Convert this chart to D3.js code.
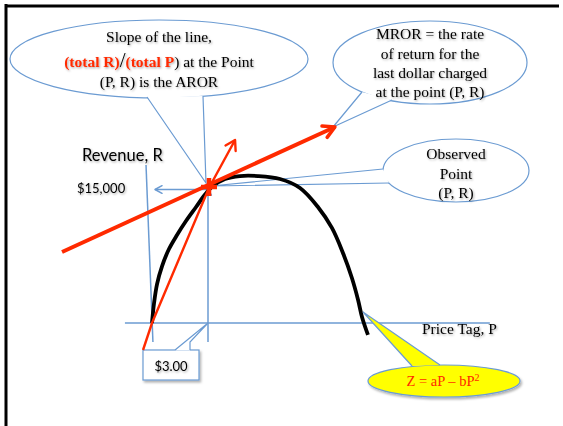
<!DOCTYPE html>
<html><head><meta charset="utf-8">
<script src="https://cdn.jsdelivr.net/npm/d3@7"></script>
<style>html,body{margin:0;padding:0;background:#fff;}svg{display:block;}</style>
</head><body>
<script>
// ---- data (P = price tag in $, R = revenue in $) ----
const curveP = [0, 0.11, 0.27, 0.54, 0.91, 1.34, 1.82, 2.36, 2.84, 3.27, 3.91, 4.71, 5.68, 6.86, 7.93, 8.89, 9.64, 10.23, 10.71, 11.04, 11.25, 11.57];
const curveR = [0, 2220, 4330, 6330, 8220, 9780, 11330, 12890, 14280, 15220, 16000, 16330, 16330, 16000, 15000, 12890, 10560, 7780, 5000, 2560, 670, -1330];
const pointP = 3.0;
const pointR = 15000;
const tangentP = [-4.82, 9.8];            // MROR line (tangent) ends
const tangentR = [7890, 21780];
const arorP = [-0.48, 0.0, 3.05, 4.45];   // AROR line through origin and point
const arorR = [-3000, 0, 15000, 20330];
const axisP = [-1.45, 18.1];              // price axis extent
const axisR = [17560, -2110];             // revenue axis extent
const tickLabelR = "$15,000";
const tickLabelP = "$3.00";
const axisTitleR = "Revenue, R";
const axisTitleP = "Price Tag, P";
const bubble1 = ["Slope of the line,", "(total R)/(total P) at the Point", "(P, R) is the AROR"];
const bubble2 = ["MROR = the rate", "of return for the", "last dollar charged", "at the point (P, R)"];
const bubble3 = ["Observed", "Point", "(P, R)"];
const formula = "Z = aP \u2013 bP";

const W = 563, H = 426;
const BLUE = "#6b9bd2", RED = "#ff2a00";
const serif = "'Liberation Serif','Times New Roman',serif";
const sans = "Lato,'Open Sans',sans-serif";

const x = d3.scaleLinear().domain([0, 3]).range([152, 208]);
const y = d3.scaleLinear().domain([0, 15000]).range([323, 188]);

const svg = d3.select("body").append("svg").attr("width", W).attr("height", H);
const defs = svg.append("defs");
const f = defs.append("filter").attr("id", "ts").attr("x", "-10%").attr("y", "-30%").attr("width", "130%").attr("height", "160%");
f.append("feDropShadow").attr("dx", 1).attr("dy", 1.2).attr("stdDeviation", 0.8).attr("flood-color", "#000").attr("flood-opacity", 0.35);
const fs = defs.append("filter").attr("id", "bs").attr("x", "-10%").attr("y", "-20%").attr("width", "130%").attr("height", "150%");
fs.append("feDropShadow").attr("dx", 1.5).attr("dy", 2).attr("stdDeviation", 1.2).attr("flood-color", "#000").attr("flood-opacity", 0.3);

function arrowHead(g, x1, y1, x2, y2, len, ang, color, w) {
  const a = Math.atan2(y2 - y1, x2 - x1);
  const p1 = [x2 - len * Math.cos(a - ang), y2 - len * Math.sin(a - ang)];
  const p2 = [x2 - len * Math.cos(a + ang), y2 - len * Math.sin(a + ang)];
  g.append("path").attr("d", `M${p1}L${x2},${y2}L${p2}`).attr("fill", "none")
    .attr("stroke", color).attr("stroke-width", w).attr("stroke-linecap", "round").attr("stroke-linejoin", "round");
}

// frame
svg.append("line").attr("x1", 6).attr("y1", 4).attr("x2", 6).attr("y2", H).attr("stroke", "#000").attr("stroke-width", 3);
svg.append("line").attr("x1", 5).attr("y1", 6).attr("x2", 559).attr("y2", 6).attr("stroke", "#000").attr("stroke-width", 3);

// ---- callout bubbles ----
function bubble(cx, cy, rx, ry, base, tip, fill, shadow) {
  const g = svg.append("g");
  g.append("ellipse").attr("cx", cx).attr("cy", cy).attr("rx", rx).attr("ry", ry)
    .attr("fill", fill).attr("stroke", BLUE).attr("stroke-width", 1.2)
    .attr("filter", shadow ? "url(#bs)" : null);
  g.append("path").attr("d", `M${base[0]}L${tip}L${base[1]}Z`).attr("fill", fill).attr("stroke", "none");
  g.append("path").attr("d", `M${base[0]}L${tip}L${base[1]}`).attr("fill", "none").attr("stroke", BLUE).attr("stroke-width", 1.2);
  return g;
}

// axes (guide lines in data space)
svg.append("line").attr("x1", x(axisP[0])).attr("y1", y(0)).attr("x2", x(axisP[1])).attr("y2", y(0))
  .attr("stroke", BLUE).attr("stroke-width", 1.5);
svg.append("line").attr("x1", x(-0.32)).attr("y1", y(axisR[0])).attr("x2", x(0.05)).attr("y2", y(axisR[1]))
  .attr("stroke", BLUE).attr("stroke-width", 1.5);
// guide at P = 3 (vertical, arrow up)
const gg = svg.append("g");
gg.append("line").attr("x1", x(pointP)).attr("y1", y(-2110)).attr("x2", x(pointP)).attr("y2", y(pointR) + 1)
  .attr("stroke", BLUE).attr("stroke-width", 1.5);
arrowHead(gg, x(pointP), y(0), x(pointP), y(pointR) + 1, 7, 0.5, BLUE, 1.5);
// guide at R = 15000 (horizontal, arrow left)
gg.append("line").attr("x1", x(pointP)).attr("y1", y(pointR) + 1.5).attr("x2", 155).attr("y2", y(pointR) + 1.5)
  .attr("stroke", BLUE).attr("stroke-width", 1.5);
arrowHead(gg, x(pointP), y(pointR) + 1.5, 155, y(pointR) + 1.5, 8, 0.5, BLUE, 1.5);

// bubble 1 (AROR)
const b1 = bubble(159, 59, 149, 39, [[147, 97], [203, 96]], [206, 183], "#fff", false);
// bubble 2 (MROR)
const b2 = bubble(430, 62.5, 97, 41.5, [[362, 92], [392, 100]], [333, 127], "#fff", false);
// bubble 3 (observed point)
const b3 = bubble(456, 170.5, 73, 31.5, [[383, 169], [389, 183]], [211, 186], "#fff", false);
// $3.00 box
const bx = svg.append("g");
bx.append("rect").attr("x", 143).attr("y", 350).attr("width", 56).attr("height", 30)
  .attr("fill", "#fff").attr("stroke", BLUE).attr("stroke-width", 1.2).attr("filter", "url(#bs)");
bx.append("path").attr("d", `M175,350.6L${x(pointP)},${y(0)}L190,342L190,350.6Z`).attr("fill", "#fff");
bx.append("path").attr("d", `M175,350L${x(pointP)},${y(0)}L190,342L190,350`).attr("fill", "none").attr("stroke", BLUE).attr("stroke-width", 1.2);
bx.append("text").attr("x", 171).attr("y", 371).attr("text-anchor", "middle")
  .attr("font-family", sans).attr("font-size", 13).attr("fill", "#000").attr("filter", "url(#ts)").text(tickLabelP);

// ---- revenue curve ----
const curveData = curveP.map((p, i) => ({ p, r: curveR[i] }));
svg.append("path").datum(curveData)
  .attr("d", d3.line().x(d => x(d.p)).y(d => y(d.r)).curve(d3.curveCatmullRom.alpha(0.5)))
  .attr("fill", "none").attr("stroke", "#000").attr("stroke-width", 3.8).attr("stroke-linecap", "butt");

// AROR line (thin red, through origin)
const ar = svg.append("g");
const arData = arorP.map((p, i) => [x(p), y(arorR[i])]);
ar.append("path").attr("d", d3.line()(arData)).attr("fill", "none").attr("stroke", RED).attr("stroke-width", 2.4);
arrowHead(ar, arData[2][0], arData[2][1], arData[3][0], arData[3][1], 11, 0.55, RED, 2.4);

// MROR tangent (thick red)
const tg = svg.append("g");
const t0 = [x(tangentP[0]), y(tangentR[0])], t1 = [x(tangentP[1]), y(tangentR[1])];
tg.append("line").attr("x1", t0[0]).attr("y1", t0[1]).attr("x2", t1[0]).attr("y2", t1[1])
  .attr("stroke", RED).attr("stroke-width", 4);
arrowHead(tg, t0[0], t0[1], t1[0], t1[1], 13, 0.5, RED, 3.5);

// observed point marker (red plus)
const px = x(pointP) + 1, py = y(pointR) - 1;
svg.append("path").attr("d", `M${px - 8},${py}H${px + 8}M${px},${py - 9}V${py + 9}`)
  .attr("stroke", RED).attr("stroke-width", 4.5).attr("fill", "none");

// ---- texts ----
function lines(arr, cx, ys, size, color) {
  arr.forEach((t, i) => {
    svg.append("text").attr("x", cx).attr("y", ys[i]).attr("text-anchor", "middle")
      .attr("font-family", serif).attr("font-size", size).attr("fill", color || "#000")
      .attr("filter", "url(#ts)").text(t);
  });
}
lines([bubble1[0]], 159, [42], 15.5);
{
  const t = svg.append("text").attr("x", 159).attr("y", 67).attr("text-anchor", "middle")
    .attr("font-family", serif).attr("font-size", 15.5).attr("fill", "#000").attr("filter", "url(#ts)");
  t.append("tspan").attr("fill", RED).attr("font-weight", "bold").text("(total R)");
  t.append("tspan").attr("font-size", 21).text("/");
  t.append("tspan").attr("fill", RED).attr("font-weight", "bold").text("(total P");
  t.append("tspan").text(") at the Point");
}
lines([bubble1[2]], 159, [87], 15.5);
lines(bubble2, 430, [39, 58.5, 77.5, 96.5], 15.5);
lines(bubble3, 456, [159, 178.5, 198], 15.5);

// axis titles and tick label
svg.append("text").attr("x", 82).attr("y", 161).attr("font-family", sans).attr("font-size", 16.5)
  .attr("fill", "#000").attr("filter", "url(#ts)").text(axisTitleR);
svg.append("text").attr("x", 77).attr("y", 193).attr("font-family", sans).attr("font-size", 13)
  .attr("fill", "#000").attr("filter", "url(#ts)").text(tickLabelR);
svg.append("text").attr("x", 422).attr("y", 334).attr("font-family", serif).attr("font-size", 15.5)
  .attr("fill", "#000").attr("filter", "url(#ts)").text(axisTitleP);

// yellow formula bubble
const b4 = bubble(444, 381, 76, 16, [[412, 366], [440, 365]], [363, 312], "#ffff00", true);
{
  const t = b4.append("text").attr("x", 443).attr("y", 386).attr("text-anchor", "middle")
    .attr("font-family", serif).attr("font-size", 14.5).attr("fill", RED);
  t.append("tspan").text(formula);
  t.append("tspan").attr("font-size", 10).attr("dy", -5).text("2");
}
</script>
</body></html>
